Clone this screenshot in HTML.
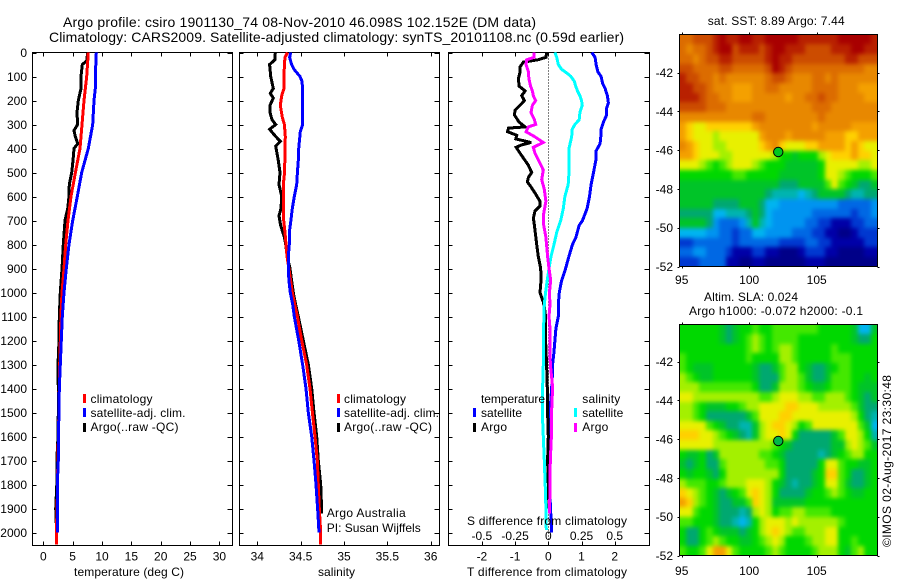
<!DOCTYPE html>
<html>
<head>
<meta charset="utf-8">
<title>Argo profile chart</title>
<style>
html,body{margin:0;padding:0;background:#fff;}
svg{display:block;}
text{font-family:"Liberation Sans",Arial,sans-serif;font-size:12px;fill:#000;}
.title{font-size:14px;}
.lbl{font-size:12px;}
</style>
</head>
<body>
<svg id="chart" xmlns="http://www.w3.org/2000/svg" width="900" height="580" viewBox="0 0 900 580">
  <defs>
    <filter id="mapSmooth" filterUnits="userSpaceOnUse" x="640" y="0" width="260" height="580" color-interpolation-filters="sRGB">
      <feGaussianBlur stdDeviation="2"/>
    </filter>
    <clipPath id="clipSST"><rect x="680" y="35" width="197" height="231"/></clipPath>
    <clipPath id="clipSLA"><rect x="680" y="325" width="197" height="230"/></clipPath>
  </defs>
  <rect x="0" y="0" width="900" height="580" fill="#fff"/>
  <text class="title" x="63" y="27" textLength="473" lengthAdjust="spacing">Argo profile: csiro 1901130_74 08-Nov-2010 46.098S 102.152E (DM data)</text>
  <text class="title" x="49" y="42" textLength="575" lengthAdjust="spacing">Climatology: CARS2009. Satellite-adjusted climatology: synTS_20101108.nc (0.59d earlier)</text>

  <g id="panelT"></g>
  <g id="panelS"></g>
  <g id="panelD"></g>
  <g id="mapSST"></g>
  <g id="mapSLA"></g>

  <text x="74" y="576" textLength="110" lengthAdjust="spacing">temperature (deg C)</text>
  <text x="318" y="576" textLength="37" lengthAdjust="spacing">salinity</text>
  <text x="467" y="576" textLength="160" lengthAdjust="spacing">T difference from climatology</text>
  <text x="467" y="525" textLength="160" lengthAdjust="spacing">S difference from climatology</text>

  <g>
    <rect x="83" y="394" width="3" height="9" fill="#f00"/>
    <rect x="83" y="408" width="3" height="9" fill="#00f"/>
    <rect x="83" y="423" width="3" height="9" fill="#000"/>
    <text x="90.5" y="403" textLength="62" lengthAdjust="spacing">climatology</text>
    <text x="90.5" y="417" textLength="95" lengthAdjust="spacing">satellite-adj. clim.</text>
    <text x="90.5" y="431" textLength="88" lengthAdjust="spacing">Argo(..raw -QC)</text>
  </g>
  <g>
    <rect x="337" y="394" width="3" height="9" fill="#f00"/>
    <rect x="337" y="408" width="3" height="9" fill="#00f"/>
    <rect x="337" y="423" width="3" height="9" fill="#000"/>
    <text x="344" y="403" textLength="62" lengthAdjust="spacing">climatology</text>
    <text x="344" y="417" textLength="95" lengthAdjust="spacing">satellite-adj. clim.</text>
    <text x="344" y="431" textLength="88" lengthAdjust="spacing">Argo(..raw -QC)</text>
    <text x="326.7" y="517" textLength="79" lengthAdjust="spacing">Argo Australia</text>
    <text x="326.7" y="532" textLength="94" lengthAdjust="spacing">PI: Susan Wijffels</text>
  </g>
  <g>
    <text x="481" y="403" textLength="64" lengthAdjust="spacing">temperature</text>
    <text x="582.3" y="403" textLength="38" lengthAdjust="spacing">salinity</text>
    <rect x="473" y="408" width="3" height="9" fill="#00f"/>
    <rect x="473" y="423" width="3" height="9" fill="#000"/>
    <rect x="574" y="408" width="3" height="9" fill="#0ff"/>
    <rect x="574" y="423" width="3" height="9" fill="#f0f"/>
    <text x="481" y="417" textLength="41" lengthAdjust="spacing">satellite</text>
    <text x="481" y="431" textLength="26" lengthAdjust="spacing">Argo</text>
    <text x="582.3" y="417" textLength="41" lengthAdjust="spacing">satellite</text>
    <text x="582.3" y="431" textLength="26" lengthAdjust="spacing">Argo</text>
  </g>

  <text x="707.7" y="25" textLength="137" lengthAdjust="spacing">sat. SST: 8.89 Argo: 7.44</text>
  <text x="704" y="301" textLength="94" lengthAdjust="spacing">Altim. SLA: 0.024</text>
  <text x="689" y="315" textLength="174" lengthAdjust="spacing">Argo h1000: -0.072 h2000: -0.1</text>
  <text transform="translate(891,547) rotate(-90)" x="0" y="0" textLength="172" lengthAdjust="spacing">©IMOS 02-Aug-2017 23:30:48</text>
</svg>
<script>
// ---- temperature profile data ----
const tempArgoDepth=[0,35,50,100,150,200,250,300,325,350,380,400,450,500,550,600,650,700,800,900,1000,1100,1200,1300,1400,1500,1600,1700,1800,1900,1960];
const tempArgo=[7.56,7.4,6.65,6.42,6.42,5.97,5.74,5.85,5.23,5.45,5.86,5.23,5.06,4.84,4.43,4.38,4.15,3.7,3.4,3.19,2.9,2.73,2.67,2.5,2.55,2.55,2.5,2.3,2.3,2.12,2.2];
const tempClimDepth=[0,100,200,300,400,500,600,700,800,900,1000,1100,1300,1500,1700,1900,1950,2000,2050];
const tempClim=[7.67,7.39,6.93,6.6,6.25,5.46,4.72,4.2,3.82,3.53,3.19,3.0,2.8,2.65,2.48,2.35,2.28,2.28,2.28];
const tempSatDepth=[0,100,150,200,300,400,500,600,700,800,900,1000,1100,1200,1300,1400,1500,1600,1700,1800,1900,2000];
const tempSat=[9.03,8.86,8.86,8.64,8.41,7.67,6.54,5.8,5.0,4.38,3.92,3.53,3.24,3.07,2.9,2.73,2.68,2.56,2.56,2.39,2.39,2.39];
const tempTicks=[0,5,10,15,20,25,30];

// ---- salinity profile data ----
const salArgoDepth=[0,30,50,100,150,170,190,220,250,280,300,320,350,370,390,450,500,550,600,650,680,720,770,800,850,900,950,1000,1050,1100,1200,1300,1400,1500,1600,1700,1800,1900,1920];
const salArgo=[34.208,34.204,34.142,34.154,34.185,34.15,34.185,34.146,34.146,34.169,34.212,34.142,34.212,34.265,34.212,34.242,34.262,34.25,34.281,34.273,34.25,34.269,34.312,34.327,34.346,34.377,34.396,34.415,34.442,34.473,34.531,34.588,34.627,34.654,34.685,34.704,34.731,34.742,34.742];
const salClimDepth=[0,20,50,100,150,180,220,270,300,350,400,500,550,600,700,750,800,850,900,1000,1100,1200,1300,1400,1500,1600,1700,1800,1900,2000,2050];
const salClim=[34.35,34.319,34.312,34.308,34.308,34.281,34.265,34.288,34.312,34.323,34.319,34.315,34.3,34.3,34.304,34.319,34.331,34.342,34.365,34.404,34.462,34.512,34.569,34.608,34.635,34.665,34.692,34.704,34.715,34.731,34.731];
const salSatDepth=[0,20,50,70,100,120,150,300,330,400,450,500,550,600,650,700,750,800,850,900,950,1000,1050,1100,1200,1300,1400,1500,1600,1700,1800,1900,2000];
const salSat=[34.385,34.373,34.396,34.423,34.492,34.515,34.523,34.523,34.496,34.477,34.473,34.462,34.454,34.427,34.404,34.388,34.369,34.369,34.358,34.358,34.365,34.381,34.408,34.427,34.477,34.523,34.562,34.588,34.627,34.654,34.677,34.696,34.712];
const salTicks=[34,34.5,35,35.5,36];

// ---- difference data ----
const diffTArgoDepth=[0,20,30,40,60,80,110,140,160,180,200,220,240,260,290,310,315,330,345,360,375,385,395,420,470,500,520,540,560,590,620,640,660,690,720,800,850,900,950,1000,1040,1060,1100,1200,1300,1400,1500,1600,1700,1800,1900];
const diffTArgo=[-0.05,-0.07,-0.3,-0.75,-0.85,-0.85,-0.9,-0.88,-0.7,-0.8,-0.72,-0.85,-1.0,-1.02,-0.88,-0.7,-1.2,-1.23,-0.95,-0.98,-0.52,-0.8,-0.97,-0.85,-0.6,-0.5,-0.6,-0.63,-0.52,-0.38,-0.25,-0.25,-0.4,-0.45,-0.42,-0.35,-0.3,-0.23,-0.22,-0.25,-0.15,-0.12,-0.08,-0.08,-0.05,-0.03,-0.02,0,-0.02,0,0.02];
const diffTSatDepth=[0,20,50,80,100,130,150,180,210,230,260,290,320,350,380,410,450,500,550,600,650,700,720,770,800,850,900,950,1000,1050,1100,1150,1200,1250,1300,1350,1400,1500,1700,1850,2000];
const diffTSat=[1.31,1.41,1.44,1.49,1.59,1.64,1.71,1.78,1.81,1.76,1.76,1.66,1.59,1.58,1.56,1.44,1.43,1.36,1.29,1.24,1.17,1.03,0.93,0.83,0.73,0.62,0.52,0.4,0.33,0.3,0.3,0.23,0.2,0.17,0.13,0.12,0.1,0.05,0.04,0.05,0.1];
const diffSSatDepth=[0,20,50,70,90,100,120,140,160,180,200,220,250,280,300,320,350,400,450,500,550,600,650,700,750,800,850,900,950,1000,1050,1100,1200,1300,1400,1500,1600,1700,1800,1900,1990];
const diffSSat=[0.05,0.063,0.075,0.1,0.15,0.17,0.196,0.206,0.22,0.238,0.25,0.256,0.238,0.233,0.2,0.18,0.176,0.156,0.156,0.156,0.15,0.125,0.113,0.093,0.063,0.043,0.02,0.005,-0.008,-0.02,-0.03,-0.033,-0.038,-0.038,-0.043,-0.045,-0.038,-0.03,-0.023,-0.018,-0.015];
const diffSArgoDepth=[0,20,30,50,80,110,140,160,180,200,220,250,280,300,310,330,350,375,395,420,460,490,530,570,620,680,720,770,850,900,950,1000,1050,1100,1150,1200,1300,1350,1400,1450,1500,1600,1700,1800,1900,1920];
const diffSArgo=[-0.108,-0.108,-0.163,-0.168,-0.15,-0.146,-0.133,-0.12,-0.113,-0.095,-0.12,-0.13,-0.105,-0.095,-0.15,-0.168,-0.105,-0.038,-0.113,-0.1,-0.063,-0.038,-0.05,-0.03,-0.018,-0.038,-0.035,-0.018,-0.005,0.005,0.018,0.008,0.013,0.005,0.013,0.013,0.015,0.025,0.033,0.028,0.025,0.023,0.015,0.013,0.01,0.01];
const diffTTicks=[-2,-1,0,1,2];
const diffSTicks=[-0.5,-0.25,0,0.25,0.5];
const diffSTickText=['-0.5','-0.25','0','0.25','0.5'];
const depthTicks=[0,100,200,300,400,500,600,700,800,900,1000,1100,1200,1300,1400,1500,1600,1700,1800,1900,2000];

// ---- map data: colour-level per cell, north to south, west to east ----
const sstRows=[
[16,16,17,17,17,18,19,18,18,19,19,18,18,19,19,19,19,19,18,18,18,18,18,18,19,19,19,19,19,18],
[16,15,16,16,17,18,19,19,17,18,18,18,17,18,19,19,18,18,18,17,17,17,17,18,18,18,19,19,18,18],
[16,16,15,16,17,17,18,18,17,17,17,17,17,18,19,18,18,17,17,17,17,17,17,17,17,18,18,17,17,17],
[17,17,16,16,16,16,17,17,16,16,16,16,16,17,19,18,17,16,16,16,16,16,16,16,16,16,16,16,15,15],
[18,17,17,16,16,15,16,15,15,15,15,15,15,16,17,17,16,15,15,15,16,16,15,16,15,15,15,15,15,15],
[18,18,17,17,16,15,15,15,14,14,14,15,15,16,16,15,15,15,15,15,16,16,16,16,15,15,15,14,14,14],
[18,18,18,17,16,16,15,15,14,14,14,15,15,15,15,15,14,15,15,16,16,17,16,16,15,15,15,15,14,14],
[17,17,17,17,16,16,16,15,15,15,15,15,15,15,15,15,15,15,15,15,16,16,16,15,15,15,15,15,15,15],
[15,15,15,15,15,15,15,15,15,15,15,16,16,15,15,15,15,15,15,15,15,16,15,15,15,15,15,15,15,15],
[14,13,12,12,13,13,13,13,13,13,13,14,15,15,15,15,15,15,15,15,14,15,15,15,15,15,14,14,14,14],
[14,13,12,12,12,11,12,12,12,12,12,12,14,15,15,15,14,15,15,15,15,15,14,14,14,13,13,14,14,14],
[15,14,13,12,12,11,11,12,12,12,12,12,13,14,15,13,12,12,12,13,13,14,14,14,14,13,14,13,12,12],
[14,14,13,12,12,12,11,11,12,12,12,12,12,12,11,9,9,8,9,9,9,11,12,13,13,13,14,13,13,12],
[12,12,12,11,10,9,10,11,12,12,12,11,10,9,9,9,8,8,8,8,8,9,12,12,12,12,12,11,11,12],
[9,9,9,9,9,9,9,9,10,10,9,9,9,9,9,8,8,8,8,8,8,9,12,12,11,10,9,9,9,10],
[8,8,8,8,8,8,8,8,8,8,8,8,8,8,8,7,7,7,8,8,8,8,10,12,10,9,8,7,7,8],
[8,8,8,8,8,8,8,8,8,8,8,8,8,7,6,6,6,6,5,6,7,8,8,8,8,7,6,6,7,7],
[8,8,8,8,8,7,7,7,7,8,8,8,7,5,5,4,4,4,4,4,4,4,4,4,3,3,3,3,3,4],
[7,7,7,7,7,5,5,6,6,6,7,8,7,5,4,4,4,4,4,4,3,3,3,3,3,3,2,3,3,4],
[8,8,8,8,7,4,3,3,3,4,6,8,6,5,4,4,4,4,4,3,3,2,2,1,1,1,2,2,3,3],
[5,5,5,5,4,4,3,3,2,3,3,5,5,4,4,4,4,3,3,3,2,2,1,1,0,0,1,2,2,2],
[2,2,3,3,3,3,3,3,2,3,3,3,3,3,3,2,2,2,2,3,3,2,2,1,1,1,1,1,2,2],
[3,3,4,4,3,3,3,2,1,1,1,2,2,1,1,0,0,0,1,2,2,2,1,1,0,0,0,0,1,1],
[2,2,2,3,3,3,3,1,1,0,0,1,1,0,0,0,0,0,0,1,1,1,0,0,0,0,0,0,0,0]
];
const slaRows=[
[9,9,9,9,9,9,8,7,8,9,9,10,9,9,10,10,10,10,10,10,10,9,9,9,9,9,8,5,5,8],
[9,9,9,9,9,9,8,7,8,9,10,11,10,9,10,10,10,10,9,9,9,9,9,9,9,9,8,7,7,9],
[9,9,9,9,9,9,9,9,9,9,10,11,10,9,10,11,11,10,9,9,9,9,9,10,9,9,9,9,9,9],
[10,9,9,9,9,9,9,9,9,9,10,9,9,9,9,11,11,10,9,9,9,9,9,10,10,10,9,9,9,9],
[10,9,8,8,8,9,9,9,9,9,9,8,7,7,8,10,11,11,9,8,7,7,8,9,10,10,9,9,9,9],
[11,10,9,8,8,9,9,9,9,9,9,8,7,7,7,10,11,11,10,8,7,7,8,10,10,10,9,9,8,9],
[11,11,11,10,10,10,10,10,10,10,10,9,7,7,8,11,11,11,10,9,8,8,9,10,10,10,9,8,8,8],
[12,12,11,11,11,11,11,11,11,11,11,11,10,10,11,12,12,12,11,11,10,10,11,11,11,10,9,8,7,8],
[11,11,10,9,8,8,8,9,9,10,11,11,12,12,12,12,13,13,12,12,12,11,11,11,11,11,10,8,7,7],
[11,11,10,9,7,7,7,7,7,7,8,10,12,12,12,13,13,12,12,12,12,12,12,12,12,12,11,9,7,6],
[12,12,12,12,10,9,8,7,7,6,6,8,11,12,13,13,12,11,9,10,12,12,12,12,12,12,12,10,8,5],
[13,13,13,12,12,11,10,9,8,7,6,8,11,12,12,13,12,9,7,7,7,7,7,8,10,12,12,11,9,6],
[12,12,12,12,12,11,11,11,11,11,11,11,11,11,10,9,8,7,7,7,7,7,7,8,8,11,12,11,10,8],
[9,8,8,9,7,8,11,11,11,11,11,11,10,10,9,8,7,7,7,7,7,6,7,8,9,10,11,11,9,9],
[8,7,8,9,7,7,10,11,11,11,11,11,11,10,10,9,7,7,7,7,7,9,12,12,10,9,9,8,8,9],
[9,8,9,9,8,7,9,11,11,11,11,11,11,11,11,9,7,7,7,7,8,9,13,13,10,9,7,7,8,9],
[11,10,10,10,9,9,10,11,11,11,12,12,12,11,9,8,7,6,7,7,8,9,12,12,10,8,7,7,8,9],
[13,12,11,10,9,8,7,8,9,10,12,13,12,11,9,7,7,7,7,8,9,9,10,11,10,9,8,8,9,9],
[14,13,11,10,9,8,7,7,8,8,10,13,12,11,8,8,8,8,8,9,9,9,9,9,9,9,9,9,9,9],
[12,12,10,9,9,8,7,7,7,6,7,11,12,11,9,10,10,11,11,10,10,10,10,9,9,9,9,9,9,9],
[10,10,9,9,9,8,7,7,6,5,6,9,11,12,12,12,11,12,11,11,11,11,11,11,10,9,9,9,9,9],
[9,7,7,9,10,9,8,8,8,7,8,9,11,12,13,12,11,10,10,11,11,11,12,12,9,9,9,9,9,9],
[9,7,7,9,10,11,10,9,9,8,8,9,10,11,12,11,9,9,9,10,11,11,12,12,9,9,10,9,9,9],
[10,9,9,10,12,14,14,12,10,9,9,9,9,10,11,10,9,9,9,9,10,11,11,11,9,8,10,11,9,9]
];
const mapLonTicks=[95,100,105];
const mapLatTicks=[42,44,46,48,50,52];
const profileLon=102.152;
const profileLat=46.098;
const levelColors=['#000088','#0000a8','#0038d0','#0068e4','#0094f0','#00b4f0','#00b4b0','#00a870','#00c428','#00d800','#44e800','#a4f000','#e8f000','#ffd000','#f4a000','#e88800','#dc6c00','#cc4c00','#b82000','#a80000'];

// ---- helpers ----
const NS='http://www.w3.org/2000/svg';
function make(parent,tag,props){
  const el=document.createElementNS(NS,tag);
  for(const k in props){el.setAttribute(k,props[k]);}
  parent.appendChild(el);
  return el;
}
const depthY=d=>52.5+0.24*d;
const tempX=v=>43.3+5.87*v;
const salX=v=>257.3+86.7*(v-34);
const diffTX=v=>548.3+33.2*v;
const diffSX=v=>548.3+132.8*v;

function drawFrame(group,left,right,xTicks,xFn,xLabelBaseline,xText){
  const top=52.5,bottom=545.5;
  xTicks.forEach(function(t,i){
    const x=Math.round(xFn(t))+0.5;
    const tt=make(group,'line',{x1:x,x2:x,y1:top,y2:top+4,stroke:'#000','shape-rendering':'crispEdges'});
    
    
    const bt=make(group,'line',{x1:x,x2:x,y1:bottom-4,y2:bottom,stroke:'#000','shape-rendering':'crispEdges'});
    
    
    if(xLabelBaseline){
      const lab=make(group,'text',{x:xFn(t),y:xLabelBaseline,'text-anchor':'middle'});
      lab.textContent=xText?xText[i]:String(t);
      
      
    }
  });
  depthTicks.forEach(function(d){
    const y=Math.round(depthY(d))+0.5;
    const lt=make(group,'line',{x1:left,x2:left+4,y1:y,y2:y,stroke:'#000','shape-rendering':'crispEdges'});
    
    
    const rt=make(group,'line',{x1:right-5,x2:right,y1:y,y2:y,stroke:'#000','shape-rendering':'crispEdges'});
    
    
  });
  const box=make(group,'rect',{x:left,y:top,width:right-left,height:bottom-top,fill:'none',stroke:'#000','shape-rendering':'crispEdges'});
  
  
}
function drawLine(group,depths,values,xFn,color,width,name){
  const pts=depths.map(function(d,i){return xFn(values[i]).toFixed(1)+','+depthY(d).toFixed(1);}).join(' ');
  const pl=make(group,'polyline',{points:pts,fill:'none',stroke:color,'stroke-width':width,'shape-rendering':'crispEdges','stroke-linejoin':'miter'});
  
  
}

// ---- profile panels ----
const gT=document.getElementById('panelT');
const gS=document.getElementById('panelS');
const gD=document.getElementById('panelD');
const lineW=3;

drawFrame(gT,32.5,232.5,tempTicks,tempX,560.5,null);
depthTicks.forEach(function(d){
  const lab=make(gT,'text',{x:27,y:depthY(d)+4.5,'text-anchor':'end'});
  lab.textContent=String(d);
  
  
});
drawLine(gT,tempArgoDepth,tempArgo,tempX,'#000',lineW,'temperature-argo-line');
drawLine(gT,tempClimDepth,tempClim,tempX,'#f00',lineW,'temperature-climatology-line');
drawLine(gT,tempSatDepth,tempSat,tempX,'#00f',lineW,'temperature-satellite-line');

drawFrame(gS,239.5,439.5,salTicks,salX,560.5,null);
drawLine(gS,salArgoDepth,salArgo,salX,'#000',lineW,'salinity-argo-line');
drawLine(gS,salClimDepth,salClim,salX,'#f00',lineW,'salinity-climatology-line');
drawLine(gS,salSatDepth,salSat,salX,'#00f',lineW,'salinity-satellite-line');

drawFrame(gD,448.5,649.5,diffTTicks,diffTX,560.5,null);
diffSTicks.forEach(function(t,i){
  const lab=make(gD,'text',{x:diffSX(t),y:540,'text-anchor':'middle'});
  lab.textContent=diffSTickText[i];
  
  
});
const zeroLine=make(gD,'line',{x1:548.5,x2:548.5,y1:52.5,y2:545,stroke:'#000','stroke-dasharray':'1 2','shape-rendering':'crispEdges'});


drawLine(gD,diffTSatDepth,diffTSat,diffTX,'#00f',lineW,'t-difference-satellite-line');
drawLine(gD,diffTArgoDepth,diffTArgo,diffTX,'#000',lineW,'t-difference-argo-line');
drawLine(gD,diffSSatDepth,diffSSat,diffSX,'#0ff',lineW,'s-difference-satellite-line');
drawLine(gD,diffSArgoDepth,diffSArgo,diffSX,'#f0f',lineW,'s-difference-argo-line');

// ---- maps ----
function drawMap(group,rows,top,bottom,lonLabelBaseline,markerFill,clipId){
  const left=679.5,right=877.5;
  const pad=14;
  const lonX=lon=>681.7+13.5*(lon-95);
  const latY=lat=>bottom-(52-lat)*19.4;
  const nr=rows.length,nc=rows[0].length;
  const cellW=(right-left)/nc,cellH=(bottom-top)/nr;
  const clipG=make(group,'g',{'clip-path':'url(#'+clipId+')'});
  
  
  const cellsG=make(clipG,'g',{filter:'url(#mapSmooth)'});
  
  
  rows.forEach(function(row,r){
    row.forEach(function(v,c){
      const x0=Math.round(left+c*cellW)-(c===0?pad:0),x1=Math.round(left+(c+1)*cellW)+(c===nc-1?pad:0);
      const y0=Math.round(top+r*cellH)-(r===0?pad:0),y1=Math.round(top+(r+1)*cellH)+(r===nr-1?pad:0);
      const cell=make(cellsG,'rect',{x:x0,y:y0,width:x1-x0,height:y1-y0,fill:levelColors[v],'shape-rendering':'crispEdges'});
      
      
    });
  });
  const box=make(group,'rect',{x:left,y:top,width:right-left,height:bottom-top,fill:'none',stroke:'#000','shape-rendering':'crispEdges'});
  
  
  mapLonTicks.forEach(function(t){
    const x=Math.round(lonX(t))+0.5;
    const a=make(group,'line',{x1:x,x2:x,y1:top-2,y2:top,stroke:'#000','shape-rendering':'crispEdges'});
    
    
    const b=make(group,'line',{x1:x,x2:x,y1:bottom,y2:bottom+2,stroke:'#000','shape-rendering':'crispEdges'});
    
    
    const lab=make(group,'text',{x:lonX(t),y:lonLabelBaseline,'text-anchor':'middle'});
    lab.textContent=String(t);
    
    
  });
  mapLatTicks.forEach(function(t){
    const y=Math.round(latY(t))+0.5;
    const a=make(group,'line',{x1:left-2,x2:left,y1:y,y2:y,stroke:'#000','shape-rendering':'crispEdges'});
    
    
    const b=make(group,'line',{x1:right,x2:right+2,y1:y,y2:y,stroke:'#000','shape-rendering':'crispEdges'});
    
    
    const lab=make(group,'text',{x:673,y:latY(t)+4.5,'text-anchor':'end'});
    lab.textContent='-'+t;
    
    
  });
  const dot=make(group,'circle',{cx:lonX(profileLon),cy:latY(profileLat),r:4.7,fill:markerFill,stroke:'#000','stroke-width':1});
  
  
}
drawMap(document.getElementById('mapSST'),sstRows,34.5,266.5,284,'#00c820','clipSST');
drawMap(document.getElementById('mapSLA'),slaRows,324.5,555.5,575,'#00b848','clipSLA');
</script>
</body>
</html>
